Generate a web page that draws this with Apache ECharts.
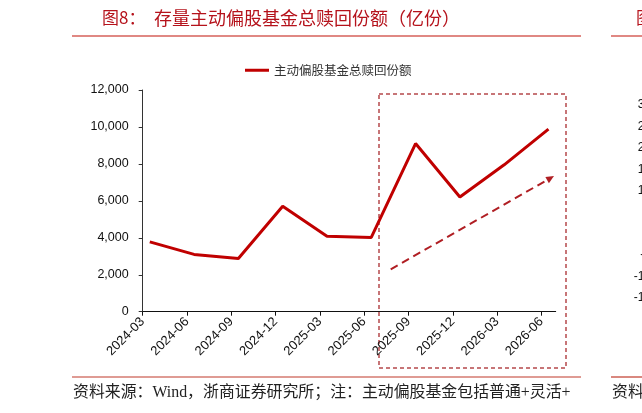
<!DOCTYPE html>
<html>
<head>
<meta charset="utf-8">
<script src="https://cdn.jsdelivr.net/npm/echarts@6/dist/echarts.min.js"></script>
<style>
html,body{margin:0;padding:0;background:#fff;}
#c{width:642px;height:413px;}
</style>
</head>
<body>
<div id="c"></div>
<script>
// ---- data ----
const categories = ['2024-03','2024-06','2024-09','2024-12','2025-03','2025-06','2025-09','2025-12','2026-03','2026-06'];
const redemption = [3780, 3100, 2880, 5710, 4090, 4020, 9100, 6210, 7950, 9880];
const seriesName = '主动偏股基金总赎回份额';
const yTicks = [0, 2000, 4000, 6000, 8000, 10000, 12000];
const rightPartialLabels = ['30','25','20','15','10','5','0','-5','-10','-15'];

const pointOffset = 0.16; // points sit slightly right of the category tick (as in the source)
const catIdx = categories.map((c, i) => i);

const chart = echarts.init(document.getElementById('c'), null, {renderer: 'canvas'});

const CJK = '"Noto Sans CJK SC", sans-serif';
const titleRed = '#B5121B';
const ruleRed = '#D6605A';

const graphics = [
  // title
  {type:'text', left:102, top:9, style:{text:'图8：', fontSize:17, fontFamily:CJK, fill:titleRed}},
  {type:'text', left:154, top:9, style:{text:'存量主动偏股基金总赎回份额（亿份）', fontSize:18, fontFamily:CJK, fill:titleRed}},
  {type:'text', left:636, top:9, style:{text:'图9：', fontSize:17, fontFamily:CJK, fill:titleRed}},
  // rules
  {type:'line', shape:{x1:72, y1:36, x2:581, y2:36}, style:{stroke:ruleRed, lineWidth:1.5}},
  {type:'line', shape:{x1:611, y1:36, x2:642, y2:36}, style:{stroke:ruleRed, lineWidth:1.5}},
  {type:'line', shape:{x1:72, y1:377, x2:581, y2:377}, style:{stroke:'#C0392B', lineWidth:1.2}},
  {type:'line', shape:{x1:611, y1:377, x2:642, y2:377}, style:{stroke:'#C0392B', lineWidth:1.2}},
  // source
  {type:'text', left:73, top:385, style:{text:'资料来源：Wind，浙商证券研究所；注：主动偏股基金包括普通+灵活+', fontSize:15.9, fontFamily:'"Liberation Serif", "Noto Sans CJK SC", serif', fill:'#222'}},
  {type:'text', left:612, top:385, style:{text:'资料来源', fontSize:15.9, fontFamily:'"Liberation Serif", "Noto Sans CJK SC", serif', fill:'#222'}},
  // dashed highlight box
  {type:'rect', shape:{x:379, y:94, width:187, height:274}, style:{fill:'none', stroke:'#B5484B', lineWidth:1.5, lineDash:[4,3]}},
  // dashed trend arrow
  {type:'line', shape:{x1:390.7, y1:269.3, x2:547.5, y2:179.8}, style:{stroke:'#B01E23', lineWidth:2, lineDash:[8,5]}},
  {type:'polygon', shape:{points:[[554,176],[548.9,183.2],[545.4,177.1]]}, style:{fill:'#B01E23'}}
];
// partial tick labels of the neighbouring chart (cut by the right edge)
rightPartialLabels.forEach((t, k) => {
  graphics.push({type:'text', x:651, y:105 + 21.45 * k, style:{text:t, fontSize:12, fontFamily:'"Liberation Sans", Arial, sans-serif', fill:'#111', align:'right', verticalAlign:'middle'}});
});

chart.setOption({
  animation: false,
  backgroundColor: '#fff',
  grid: {left: 142.7, right: 86.3, top: 90, bottom: 101.3, containLabel: false},
  legend: {
    data: [{name: seriesName, icon: 'rect'}],
    left: 240, top: 59,
    itemWidth: 24, itemHeight: 3, itemGap: 10,
    textStyle: {fontSize: 12.5, fontFamily: CJK, color: '#333'}
  },
  xAxis: {
    type: 'value',
    min: 0,
    max: 9.323,
    axisLine: {show: true, onZero: false, lineStyle: {color: '#111', width: 1}},
    axisTick: {show: true, inside: false, length: 4, customValues: catIdx, lineStyle: {color: '#111'}},
    axisLabel: {
      customValues: catIdx,
      rotate: 45,
      margin: 8,
      fontSize: 13,
      fontFamily: '"Liberation Sans", Arial, sans-serif',
      color: '#111',
      formatter: v => categories[Math.round(v)] || ''
    },
    splitLine: {show: false}
  },
  yAxis: {
    type: 'value',
    min: 0, max: 12000, interval: 2000,
    axisLine: {show: true, lineStyle: {color: '#333', width: 1}},
    axisTick: {show: true, inside: false, length: 4, lineStyle: {color: '#333'}},
    axisLabel: {
      margin: 14,
      fontSize: 12.5,
      fontFamily: '"Liberation Sans", Arial, sans-serif',
      color: '#111',
      formatter: v => v.toLocaleString('en-US')
    },
    splitLine: {show: false}
  },
  series: [{
    name: seriesName,
    type: 'line',
    data: redemption.map((v, i) => [catIdx[i] + pointOffset, v]),
    showSymbol: false,
    symbol: 'none',
    lineStyle: {color: '#C00000', width: 3},
    itemStyle: {color: '#C00000'}
  }],
  graphic: graphics
});
</script>
</body>
</html>
